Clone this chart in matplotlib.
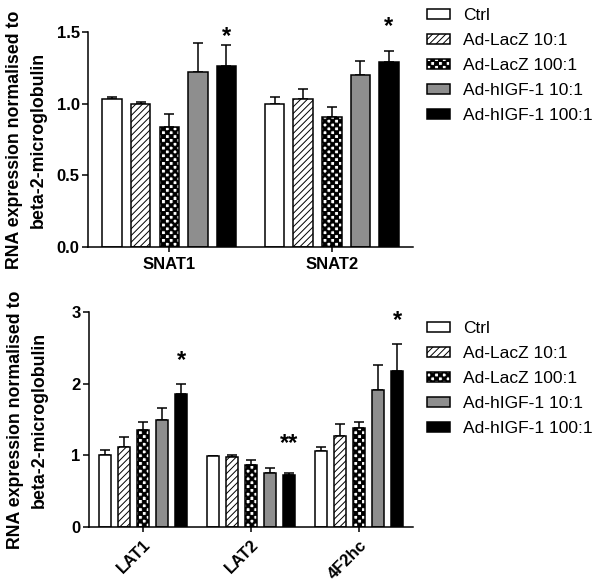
import numpy as np
import matplotlib
matplotlib.use('Agg')
import matplotlib.pyplot as plt
import matplotlib.hatch as mhatch
from matplotlib.path import Path

# données
groupes = ['Ctrl', 'Ad-LacZ 10:1', 'Ad-LacZ 100:1', 'Ad-hIGF-1 10:1', 'Ad-hIGF-1 100:1']

genes_haut = ['SNAT1', 'SNAT2']
moy_haut = np.array([[1.03, 1.00], [1.00, 1.03], [0.84, 0.91], [1.22, 1.20], [1.26, 1.29]])
err_haut = np.array([[0.02, 0.05], [0.01, 0.07], [0.09, 0.07], [0.20, 0.10], [0.15, 0.08]])
etoiles_haut = ['*', '*']
y_etoiles_haut = [1.47, 1.54]

genes_bas = ['LAT1', 'LAT2', '4F2hc']
moy_bas = np.array([[1.00, 0.985, 1.065], [1.11, 0.97, 1.27], [1.36, 0.86, 1.38],
                    [1.50, 0.75, 1.91], [1.85, 0.73, 2.17]])
err_bas = np.array([[0.07, 0.01, 0.05], [0.14, 0.03, 0.17], [0.11, 0.08, 0.08],
                    [0.16, 0.08, 0.35], [0.14, 0.02, 0.38]])
etoiles_bas = ['*', '**', '*']
y_etoiles_bas = [2.33, 1.17, 2.88]


# motif damier: on remplace le hachurage '.' par des carrés pleins
class Damier(mhatch.HatchPatternBase):
    filled = True

    def __init__(self, hatch, density):
        self.n = 26 if '.' in hatch else 0
        self.num_vertices = 5 * (self.n * self.n // 2)

    def set_vertices_and_codes(self, vertices, codes):
        s = 1.0 / self.n
        k = 0
        for i in range(self.n):
            for j in range(self.n):
                if (i + j) % 2 == 0:
                    vertices[k:k + 5] = [[i*s, j*s], [(i+1)*s, j*s], [(i+1)*s, (j+1)*s],
                                         [i*s, (j+1)*s], [i*s, j*s]]
                    codes[k:k + 5] = [Path.MOVETO, Path.LINETO, Path.LINETO,
                                      Path.LINETO, Path.CLOSEPOLY]
                    k += 5


mhatch._hatch_types = [h for h in mhatch._hatch_types
                       if h is not mhatch.SmallFilledCircles] + [Damier]

plt.rcParams['font.family'] = 'Liberation Sans'
plt.rcParams['hatch.linewidth'] = 0.7

couleurs = ['white', 'white', 'white', '#8e8e8e', 'black']
motifs = ['', '/////', '.', '', '']
pas = 0.176
largeur = 0.12


def panneau(ax, genes, moy, err, etoiles, y_etoiles, ymax, yticks, fmt, rot):
    x = np.arange(len(genes))
    for i in range(len(groupes)):
        xi = x + (i - 2) * pas
        ax.bar(xi, moy[i], largeur, color=couleurs[i], hatch=motifs[i],
               edgecolor='black', linewidth=1.1, label=groupes[i], zorder=2)
        ax.errorbar(xi, moy[i], yerr=[np.zeros(len(genes)), err[i]], fmt='none',
                    ecolor='black', elinewidth=1.1, capsize=3.5, capthick=1.1, zorder=1)
    for j in range(len(genes)):
        ax.text(x[j] + 2 * pas, y_etoiles[j], etoiles[j], ha='center', va='center',
                fontsize=17, fontweight='bold')
    ax.set_xlim(-0.5, len(genes) - 0.5)
    ax.set_ylim(0, ymax)
    ax.set_yticks(yticks)
    ax.set_yticklabels([fmt % v for v in yticks], fontweight='bold', fontsize=12)
    ax.set_xticks(x)
    if rot:
        ax.set_xticklabels(genes, fontweight='bold', fontsize=12, rotation=45,
                           ha='right', rotation_mode='anchor')
    else:
        ax.set_xticklabels(genes, fontweight='bold', fontsize=12)
    ax.spines['top'].set_visible(False)
    ax.spines['right'].set_visible(False)
    ax.spines['left'].set_linewidth(1.1)
    ax.spines['bottom'].set_linewidth(1.1)
    ax.tick_params(axis='y', length=4, width=1.1, pad=2)
    ax.tick_params(axis='x', length=3.5, width=1.1, pad=4)
    ax.set_ylabel('RNA expression normalised to\nbeta-2-microglobulin',
                  fontweight='bold', fontsize=12.8, linespacing=1.5)
    ax.yaxis.set_label_coords(-0.127, 0.5)


fig = plt.figure(figsize=(6.01, 5.88), dpi=100)
ax1 = fig.add_axes([88/601, 1 - 247/588, 325/601, 215/588])
ax2 = fig.add_axes([89/601, 1 - 527/588, 324/601, 215/588])

panneau(ax1, genes_haut, moy_haut, err_haut, etoiles_haut, y_etoiles_haut,
        1.5, [0.0, 0.5, 1.0, 1.5], '%.1f', False)
panneau(ax2, genes_bas, moy_bas, err_bas, etoiles_bas, y_etoiles_bas,
        3, [0, 1, 2, 3], '%d', True)

for ax, ytop in [(ax1, 8), (ax2, 321)]:
    h, l = ax.get_legend_handles_labels()
    fig.legend(h, l, loc='upper left', bbox_to_anchor=(427/601, 1 - ytop/588),
               frameon=False, fontsize=12.5, borderpad=0, borderaxespad=0,
               handlelength=1.32, handleheight=0.55, handletextpad=0.75,
               labelspacing=0.58)

fig.savefig('out.png', dpi=100)
